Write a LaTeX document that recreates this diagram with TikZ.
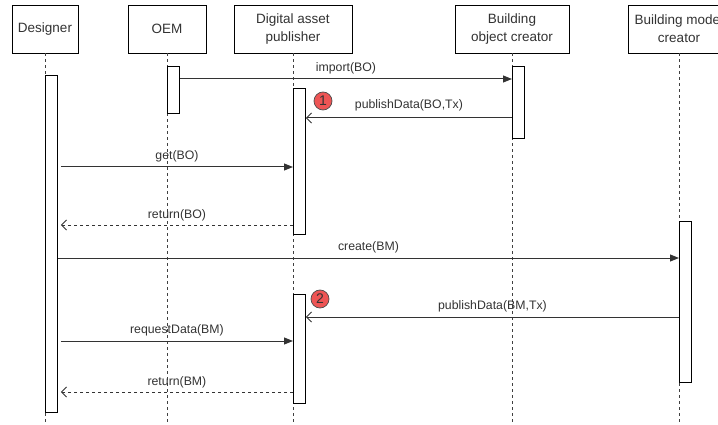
\documentclass[tikz,border=0pt]{standalone}
\usepackage{fontspec}
\setmainfont{Liberation Sans}
\usetikzlibrary{arrows.meta}
\definecolor{ink}{HTML}{333333}
\definecolor{badgered}{HTML}{EE5555}
\begin{document}
\begin{tikzpicture}[x=1pt,y=-1pt,
  hdr/.style={draw=black, line width=0.9pt, fill=white, minimum height=48pt,
    inner sep=0pt, align=center, text=ink, font=\fontsize{13.5}{18}\selectfont},
  bar/.style={draw=black, line width=0.9pt, fill=white, minimum width=12pt,
    inner sep=0pt, anchor=north west},
  life/.style={draw=black!75, line width=0.9pt, dash pattern=on 3pt off 3pt},
  msg/.style={draw=ink, line width=1pt, -{Triangle[length=9pt,width=7pt]}},
  ret/.style={draw=ink, line width=0.9pt, dash pattern=on 3pt off 3pt,
    -{Straight Barb[length=5pt,width=10pt,line width=0.9pt]}},
  pub/.style={draw=ink, line width=1pt,
    -{Straight Barb[length=5pt,width=10pt,line width=0.9pt]}},
  lbl/.style={text=ink, inner sep=0pt, font=\fontsize{12.3}{14}\selectfont},
  badge/.style={circle, draw=black!70, line width=0.7pt, fill=badgered,
    minimum size=18pt, inner sep=0pt, text=ink, font=\fontsize{14}{16}\selectfont}
]
\useasboundingbox (0,0) rectangle (718,425);

% participants
\node[hdr, minimum width=66pt]  (des) at (45,29)  {Designer};
\node[hdr, minimum width=78pt]  (oem) at (167,29) {OEM};
\node[hdr, minimum width=118pt] (dap) at (293,29) {Digital asset\\publisher};
\node[hdr, minimum width=114pt] (boc) at (512,29) {Building\\object creator};
\node[hdr, minimum width=102pt] (bmc) at (679,29) {Building model\\creator};

% lifeline ends
\coordinate (desend) at (45,425);
\coordinate (oemend) at (167,425);
\coordinate (dapend) at (293,425);
\coordinate (bocend) at (512,425);
\coordinate (bmcend) at (679,425);

\draw[life] (des.south) -- (desend);
\draw[life] (oem.south) -- (oemend);
\draw[life] (dap.south) -- (dapend);
\draw[life] (boc.south) -- (bocend);
\draw[life] (bmc.south) -- (bmcend);

% activation bars
\node[bar, minimum height=337pt] (desact) at (45,75)  {};
\node[bar, minimum height=47pt]  (oemact) at (167,66) {};
\node[bar, minimum height=146pt] (dapa)   at (293,88) {};
\node[bar, minimum height=72pt]  (bocact) at (512,66) {};
\node[bar, minimum height=161pt] (bmcact) at (679,221) {};
\node[bar, minimum height=109pt] (dapb)   at (293,294) {};

\coordinate (desout) at ([xshift=3pt]desact.east);

% messages
\draw[msg] (oemact.east |- 0,79) -- node[lbl, above=4pt] {import(BO)} (bocact.west |- 0,79);
\draw[pub] (bocact.west |- 0,118) -- node[lbl, above=6pt] {publishData(BO,Tx)} (dapa.east |- 0,118);
\draw[msg] (desout |- 0,167) -- node[lbl, above=4pt] {get(BO)} (dapa.west |- 0,167);
\draw[ret] (dapa.west |- 0,225) -- node[lbl, above=4pt] {return(BO)} (desout |- 0,225);
\draw[msg] (desact.east |- 0,258) -- node[lbl, above=4pt] {create(BM)} (bmcact.west |- 0,258);
\draw[pub] (bmcact.west |- 0,317) -- node[lbl, above=4pt] {publishData(BM,Tx)} (dapb.east |- 0,317);
\draw[msg] (desout |- 0,341) -- node[lbl, above=4pt] {requestData(BM)} (dapb.west |- 0,341);
\draw[ret] (dapb.west |- 0,392) -- node[lbl, above=4pt] {return(BM)} (desout |- 0,392);

% step markers
\node[badge] (b1) at (323,101) {1};
\node[badge] (b2) at (320,299) {2};
\end{tikzpicture}
\end{document}
